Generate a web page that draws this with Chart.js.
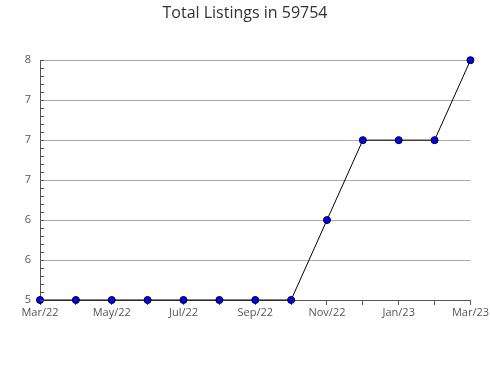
<!DOCTYPE html>
<html><head><meta charset="utf-8">
<script src="https://cdn.jsdelivr.net/npm/chart.js@4"></script>
<style>html,body{margin:0;padding:0;background:#fff}#w{width:490px;height:380px}</style>
</head><body><div id="w"><canvas id="c" width="490" height="380"></canvas></div>
<script>
const months = ['Mar/22','Apr/22','May/22','Jun/22','Jul/22','Aug/22','Sep/22','Oct/22','Nov/22','Dec/22','Jan/23','Feb/23','Mar/23'];
const listings = [5,5,5,5,5,5,5,5,6,7,7,7,8];
const yMajorLabels = ['5','6','6','7','7','7','8'];
const yMin = 5, yMax = 8, yMajorStep = 0.5, yMinorStep = 0.1;

const isMajor = v => Math.abs(v / yMajorStep - Math.round(v / yMajorStep)) < 1e-6;

const minorTicks = {
  id: 'minorTicks',
  afterDatasetsDraw(chart) {
    const y = chart.scales.y, ctx = chart.ctx, left = chart.chartArea.left;
    ctx.save();
    ctx.strokeStyle = '#555';
    ctx.lineWidth = 1;
    y.ticks.forEach(t => {
      const py = Math.round(y.getPixelForValue(t.value)) + 0.5;
      ctx.beginPath();
      ctx.moveTo(left, py);
      ctx.lineTo(left + 4, py);
      ctx.stroke();
    });
    ctx.restore();
  }
};

new Chart(document.getElementById('c'), {
  type: 'line',
  data: {
    labels: months,
    datasets: [{
      data: listings,
      borderColor: '#000',
      borderWidth: 1,
      tension: 0,
      pointRadius: 3.5,
      pointHoverRadius: 3.5,
      pointBackgroundColor: '#0000ff',
      pointBorderColor: '#000',
      pointBorderWidth: 1,
      clip: false
    }]
  },
  options: {
    responsive: false,
    animation: false,
    devicePixelRatio: 1,
    layout: { padding: 0 },
    plugins: {
      legend: { display: false },
      tooltip: { enabled: false },
      title: {
        display: true,
        text: 'Total Listings in 59754',
        color: '#333',
        font: { family: 'Open Sans', size: 16, weight: 'normal' },
        padding: { top: 4, bottom: 37 }
      }
    },
    scales: {
      x: {
        type: 'category',
        offset: false,
        afterFit(s) { s.height = 80; },
        border: { display: true, color: '#555' },
        grid: { display: true, drawOnChartArea: false, drawTicks: true, tickLength: 5, tickColor: '#555' },
        ticks: {
          autoSkip: false, maxRotation: 0, padding: 1,
          color: '#555',
          font: { family: 'Open Sans', size: 11 },
          callback: (v, i) => (i % 2 === 0 ? months[i] : '')
        }
      },
      y: {
        min: yMin, max: yMax,
        afterFit(s) { s.width = 40; },
        border: { display: true, color: '#555' },
        grid: {
          drawTicks: false,
          color: ctx => (ctx.tick && isMajor(ctx.tick.value) ? '#aaa' : 'rgba(0,0,0,0)')
        },
        ticks: {
          stepSize: yMinorStep, autoSkip: false, padding: 9,
          color: '#555',
          font: { family: 'Open Sans', size: 11 },
          callback: v => (isMajor(v) ? yMajorLabels[Math.round((v - yMin) / yMajorStep)] : '')
        }
      }
    }
  },
  plugins: [minorTicks]
});
</script></body></html>
